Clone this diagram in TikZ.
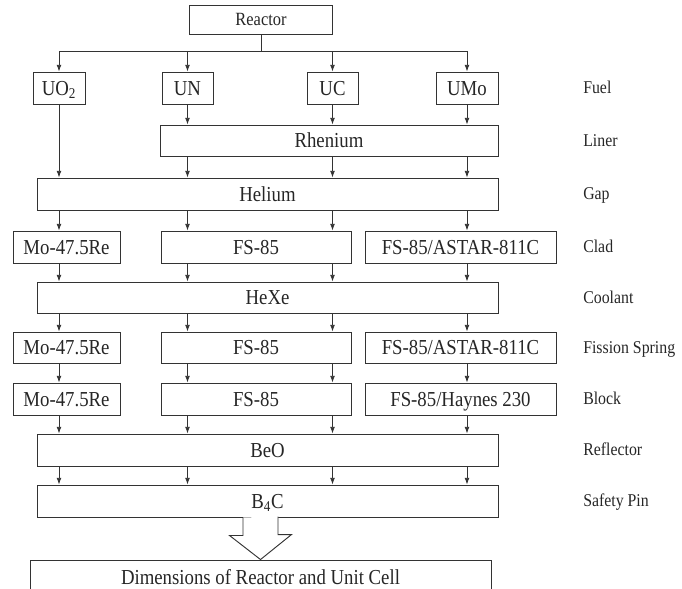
\documentclass[tikz,border=0pt]{standalone}
\usepackage{fontspec}
\setmainfont{Liberation Serif}[FakeStretch=0.88]
\usetikzlibrary{arrows.meta,calc}

\begin{document}
\begin{tikzpicture}[x=0.75pt,y=-0.75pt,
    blk/.style={draw=black!80, line width=0.7pt, inner sep=0pt, minimum height=24pt,
        text height=10.6pt, text depth=0pt, font=\fontsize{16}{18}\selectfont, text=black!85},
    lbl/.style={anchor=west, inner sep=0pt, text height=8.9pt, text depth=0pt,
        font=\fontsize{13.5}{16}\selectfont, text=black!85},
    arr/.style={draw=black!80, line width=0.6pt, -{Latex[length=5pt,width=3.6pt]}}]
    \useasboundingbox (0,0) rectangle (682,589);

    % Reactor and fuels
    \node[blk, minimum width=107.25pt, minimum height=21.75pt, text height=9.3pt, font=\fontsize{14}{16}\selectfont] (reactor) at (261,19.5) {Reactor};
    \node[blk, minimum width=39pt] (uo2) at (59,88) {UO\textsubscript{2}};
    \node[blk, minimum width=38.25pt] (un) at (187.5,88) {UN};
    \node[blk, minimum width=38.25pt] (uc) at (332.5,88) {UC};
    \node[blk, minimum width=46.5pt] (umo) at (467,88) {UMo};

    % Liner and gap
    \node[blk, minimum width=253.5pt, minimum height=23.25pt] (rhenium) at (329,140.5) {Rhenium};
    \node[blk, minimum width=345.75pt] (helium) at (267.5,194) {Helium};

    % Clad
    \node[blk, minimum width=80.25pt] (clad1) at (66.5,247) {Mo-47.5Re};
    \node[blk, minimum width=142.5pt] (clad2) at (256,247) {FS-85};
    \node[blk, minimum width=143.25pt] (clad3) at (460.5,247) {FS-85/ASTAR-811C};

    \node[blk, minimum width=345.75pt, minimum height=23.25pt] (hexe) at (267.5,297.5) {HeXe};

    % Fission spring
    \node[blk, minimum width=80.25pt, minimum height=23.25pt] (spring1) at (66.5,347.5) {Mo-47.5Re};
    \node[blk, minimum width=142.5pt, minimum height=23.25pt] (spring2) at (256,347.5) {FS-85};
    \node[blk, minimum width=143.25pt, minimum height=23.25pt] (spring3) at (460.5,347.5) {FS-85/ASTAR-811C};

    % Block
    \node[blk, minimum width=80.25pt] (block1) at (66.5,399) {Mo-47.5Re};
    \node[blk, minimum width=142.5pt] (block2) at (256,399) {FS-85};
    \node[blk, minimum width=143.25pt] (block3) at (460.5,399) {FS-85/Haynes 230};

    \node[blk, minimum width=345.75pt] (beo) at (267.5,450) {BeO};
    \node[blk, minimum width=345.75pt] (b4c) at (267.5,501) {B\textsubscript{4}C};

    \node[blk, minimum width=345.75pt, minimum height=26.25pt] (dims) at (260.5,577.5) {Dimensions of Reactor and Unit Cell};

    % Row labels
    \coordinate (lx) at (583,0);
    \node[lbl] (lfuel) at (lx |- uo2) {Fuel};
    \node[lbl] (lliner) at (lx |- rhenium) {Liner};
    \node[lbl] (lgap) at (lx |- helium) {Gap};
    \node[lbl] (lclad) at (lx |- clad1) {Clad};
    \node[lbl] (lcool) at (lx |- hexe) {Coolant};
    \node[lbl] (lspring) at (lx |- spring1) {Fission Spring};
    \node[lbl] (lblock) at (lx |- block1) {Block};
    \node[lbl] (lrefl) at (lx |- beo) {Reflector};
    \node[lbl] (lpin) at (lx |- b4c) {Safety Pin};

    % Reactor fork
    \coordinate (bus) at ($(reactor.south)+(0,17)$);
    \draw[draw=black!80, line width=0.6pt] (reactor.south) -- (bus);
    \foreach \c in {uo2,un,uc,umo}
        \draw[arr] (bus) -| (\c.north);

    % Fuel to liner and gap
    \draw[arr] (uo2.south) -- (uo2.south |- helium.north);
    \foreach \c in {un,uc,umo} {
        \draw[arr] (\c.south) -- (\c.south |- rhenium.north);
        \draw[arr] (rhenium.south -| \c) -- (helium.north -| \c);
    }

    % Layer to layer
    \foreach \c/\s/\t in {uo2/helium/clad1, un/helium/clad2, uc/helium/clad2, umo/helium/clad3,
        uo2/clad1/hexe, un/clad2/hexe, uc/clad2/hexe, umo/clad3/hexe,
        uo2/hexe/spring1, un/hexe/spring2, uc/hexe/spring2, umo/hexe/spring3,
        uo2/spring1/block1, un/spring2/block2, uc/spring2/block2, umo/spring3/block3,
        uo2/block1/beo, un/block2/beo, uc/block2/beo, umo/block3/beo,
        uo2/beo/b4c, un/beo/b4c, uc/beo/b4c, umo/beo/b4c}
        \draw[arr] (\s.south -| \c) -- (\t.north -| \c);

    % Block arrow to dimensions
    \draw[draw=black!80, line width=0.7pt, fill=white] (b4c.south -| dims.north) ++(-17.5,0) -- ++(0,18)
        -- ++(-13.5,0) -- (dims.north) -- ++(31,-25) -- ++(-13.5,0) -- ++(0,-18);
\end{tikzpicture}
\end{document}
